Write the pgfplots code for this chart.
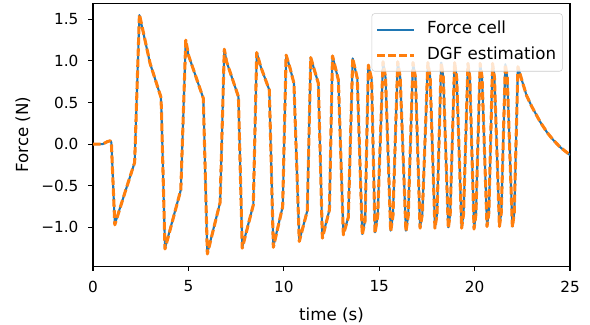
\documentclass[border=0pt]{standalone}
\usepackage{fontspec}
\setmainfont{DejaVu Sans}
\usepackage{pgfplots}
\usepackage{pgfplotstable}
\pgfplotsset{compat=1.18}
\definecolor{mplblue}{HTML}{1F77B4}
\definecolor{mplorange}{HTML}{FF7F0E}
\pgfplotstableread{
t f
0 0
0.5 0
0.75 0.03
0.9 0.04
0.96 0.02
1.14 -0.96
1.66 -0.59
2.18 -0.22
2.43 1.55
2.99 0.97
3.55 0.57
3.58 0.45
3.77 -1.25
4.60 -0.55
4.86 1.24
5.00 1.07
5.78 0.55
5.99 -1.31
6.66 -0.70
6.88 1.14
7.00 0.99
7.62 0.57
7.82 -1.24
8.40 -0.73
8.58 1.10
8.79 0.93
9.24 0.65
9.45 -1.23
9.94 -0.75
10.12 1.07
10.33 0.91
10.53 0.73
10.81 -1.16
11.23 -0.80
11.41 1.04
11.55 0.93
11.81 0.73
12.02 -1.12
12.39 -0.79
12.55 1.06
12.86 0.77
13.12 -1.08
13.38 -0.88
13.61 1.03
13.85 0.79
14.11 -1.08
14.26 -0.92
14.43 0.95
14.60 0.78
14.78 -1.06
14.92 -0.86
15.20 0.99
15.33 0.80
15.60 -1.04
15.72 -0.86
15.97 0.99
16.10 0.80
16.40 -1.04
16.52 -0.86
16.77 0.98
16.90 0.80
17.14 -1.00
17.26 -0.84
17.55 0.98
17.67 0.80
17.92 -1.00
18.03 -0.84
18.25 0.98
18.36 0.80
18.62 -1.00
18.72 -0.84
18.95 0.98
19.06 0.80
19.32 -1.00
19.42 -0.84
19.65 0.97
19.75 0.80
19.97 -1.01
20.07 -0.84
20.29 0.97
20.39 0.80
20.65 -0.98
20.75 -0.82
20.94 0.97
21.04 0.80
21.30 -0.98
21.40 -0.82
21.61 0.96
21.71 0.80
21.98 -0.99
22.08 -0.82
22.27 0.93
22.50 0.75
22.73 0.58
23.00 0.45
23.43 0.27
23.80 0.14
24.12 0.05
24.50 -0.04
25.00 -0.13
}\forcecell
\pgfplotstableread{
t f
0 0
0.5 0
0.75 0.03
0.9 0.04
0.96 0.02
1.14 -0.97
1.66 -0.59
2.18 -0.22
2.43 1.56
2.99 0.97
3.55 0.57
3.58 0.45
3.77 -1.26
4.60 -0.55
4.86 1.25
5.00 1.07
5.78 0.55
5.99 -1.32
6.66 -0.70
6.88 1.14
7.00 0.99
7.62 0.57
7.82 -1.25
8.40 -0.73
8.58 1.10
8.79 0.93
9.24 0.65
9.45 -1.24
9.94 -0.75
10.12 1.07
10.33 0.91
10.53 0.73
10.81 -1.17
11.23 -0.80
11.41 1.04
11.55 0.93
11.81 0.73
12.02 -1.13
12.39 -0.79
12.55 1.06
12.86 0.77
13.12 -1.09
13.38 -0.88
13.61 1.03
13.85 0.79
14.11 -1.09
14.26 -0.92
14.43 0.95
14.60 0.78
14.78 -1.07
14.92 -0.86
15.20 0.99
15.33 0.80
15.60 -1.05
15.72 -0.86
15.97 0.99
16.10 0.80
16.40 -1.05
16.52 -0.86
16.77 0.98
16.90 0.80
17.14 -1.01
17.26 -0.84
17.55 0.98
17.67 0.80
17.92 -1.01
18.03 -0.84
18.25 0.98
18.36 0.80
18.62 -1.01
18.72 -0.84
18.95 0.98
19.06 0.80
19.32 -1.01
19.42 -0.84
19.65 0.97
19.75 0.80
19.97 -1.02
20.07 -0.84
20.29 0.97
20.39 0.80
20.65 -0.99
20.75 -0.82
20.94 0.97
21.04 0.80
21.30 -0.99
21.40 -0.82
21.61 0.96
21.71 0.80
21.98 -1.00
22.08 -0.82
22.27 0.93
22.50 0.75
22.73 0.58
23.00 0.45
23.43 0.27
23.80 0.14
24.12 0.05
24.50 -0.04
25.00 -0.13
}\dgf
\begin{document}
\begin{tikzpicture}
\begin{axis}[
  name=ax,
  scale only axis,
  width=343.4pt, height=189.2pt,
  xmin=0, xmax=25, ymin=-1.466, ymax=1.692,
  axis line style={line width=0.8pt},
  tick align=outside,
  major tick length=3.5pt,
  every tick/.style={black, line width=0.8pt},
  xtick pos=bottom, ytick pos=left,
  xtick={0,5,10,15,20,25},
  ytick={-1,-0.5,0,0.5,1,1.5},
  yticklabels={−1.0,−0.5,0.0,0.5,1.0,1.5},
  /pgf/number format/assume math mode=true,
  tick label style={font=\fontsize{11}{13}\selectfont},
  xticklabel style={yshift=-3.5pt},
  yticklabel style={xshift=-3.5pt},
  xlabel={time (s)}, ylabel={Force (N)},
  label style={font=\fontsize{12}{14}\selectfont},
  xlabel style={yshift=-4pt},
  ylabel style={yshift=1pt},
  legend cell align=left,
  legend image code/.code={\draw[#1] (0pt,0pt) -- (26.4pt,0pt);},
  legend style={at={(rel axis cs:0.9846,0.962)}, anchor=north east,
    draw=black!20, rounded corners=2pt, fill=white, fill opacity=0.8, text opacity=1,
    font=\fontsize{12}{14}\selectfont, inner xsep=3pt, inner ysep=4.5pt,
    row sep=4.5pt,
    nodes={inner sep=1.5pt, text height=8.5pt, text depth=2.5pt},
    /tikz/every odd column/.append style={column sep=7pt}},
]
\addplot[mplblue, line width=1.5pt, line join=round] table[x=t,y=f] {\forcecell};
\addlegendentry{Force cell}
\addplot[mplorange, line width=2.2pt, line join=round, dash pattern=on 5.5pt off 2.4pt,
  legend image post style={line width=1.8pt}] table[x=t,y=f] {\dgf};
\addlegendentry{DGF estimation\hspace{4pt}}
\end{axis}
\pgfresetboundingbox
\path[use as bounding box] ([xshift=-67pt,yshift=-41.8pt]ax.south west) rectangle ([xshift=14.4pt,yshift=2.4pt]ax.north east);
\end{tikzpicture}
\end{document}
